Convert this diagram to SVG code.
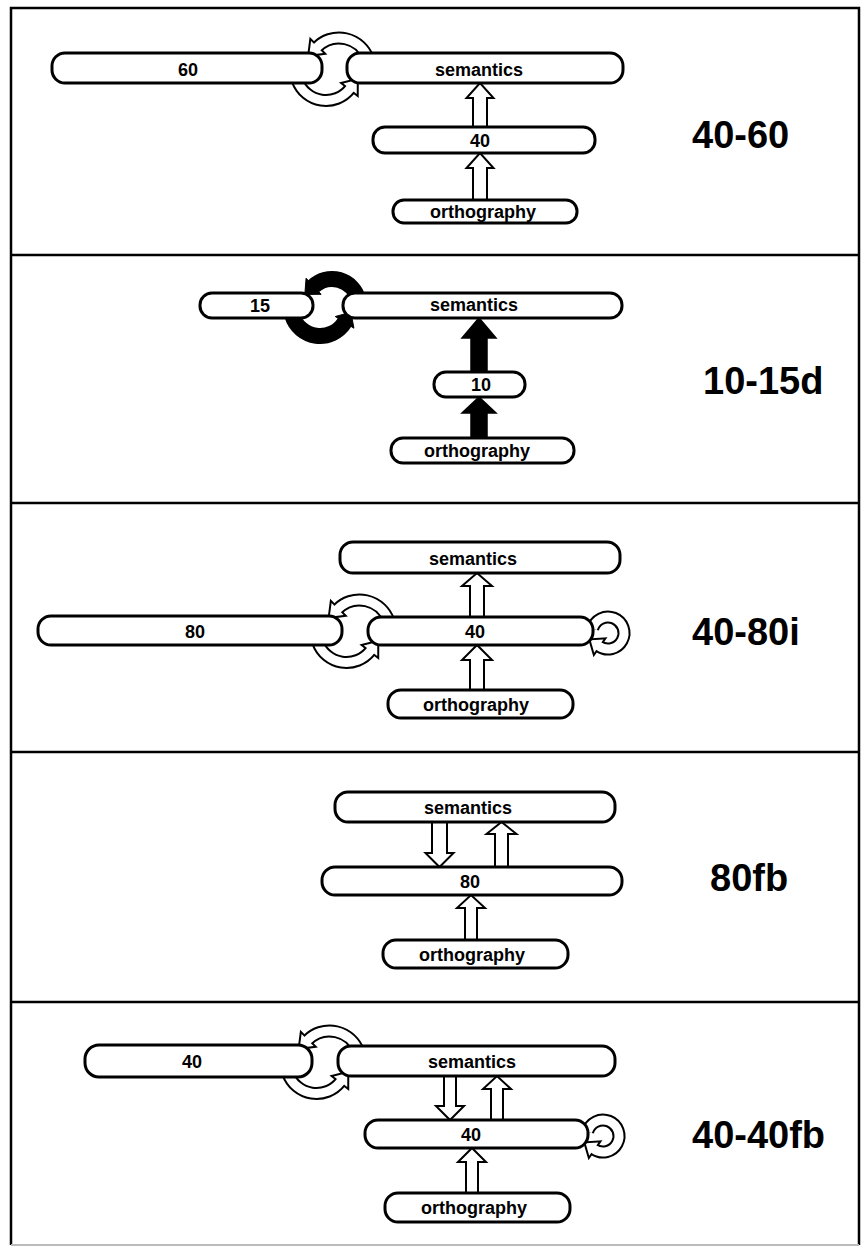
<svg xmlns="http://www.w3.org/2000/svg" xmlns:xlink="http://www.w3.org/1999/xlink" width="862" height="1249" viewBox="0 0 862 1249">
<style>
.pill{fill:#fff;stroke:#000;stroke-width:3}
.t{font-family:"Liberation Sans",Arial,Helvetica,sans-serif;font-weight:bold;font-size:18px;text-anchor:middle;fill:#000}
.lbl{font-family:"Liberation Sans",Arial,Helvetica,sans-serif;font-weight:bold;font-size:38px;fill:#000}
.ha{fill:#fff;stroke:#000;stroke-width:2;stroke-linejoin:miter}
.ba{fill:#000;stroke:#000;stroke-width:1.5;stroke-linejoin:miter}
.hb{fill:none;stroke:#000;stroke-width:13}
.hh{fill:#000;stroke:#000;stroke-width:4;stroke-linejoin:miter}
.hw{fill:none;stroke:#fff;stroke-width:9}
.hf{fill:#fff;stroke:none}
.bb{fill:none;stroke:#000;stroke-width:16}
.bh{fill:#000;stroke:#000;stroke-width:1}
.frame{fill:none;stroke:#000;stroke-width:2.5}
</style>
<defs>
<g id="loopH">
<path class="hb" d="M33.63,-9.6 A31,31 0 0 0 -17.42,-20.92"/>
<path class="hb" d="M-37.16,12.43 A30.5,30.5 0 0 0 15.53,20.78"/>
<polygon class="hh" points="-23.43,-26.93 -25.2,-13.14 -11.41,-14.91"/>
<polygon class="hh" points="22.23,26.02 22.3,12.11 8.83,15.54"/>
<path class="hw" d="M33.63,-9.6 A31,31 0 0 0 -17.42,-20.92 l-2.83,2.83"/>
<path class="hw" d="M-37.16,12.43 A30.5,30.5 0 0 0 15.53,20.78 l2.46,-3.15"/>
<polygon class="hf" points="-23.43,-26.93 -25.2,-13.14 -11.41,-14.91"/>
<polygon class="hf" points="22.23,26.02 22.3,12.11 8.83,15.54"/>
</g>
<g id="loopB">
<path class="bb" d="M30.08,-6.99 A27,27 0 0 0 -14.41,-19.75 l-1.46,1.36"/>
<path class="bb" d="M-35.73,9.48 A29,29 0 0 0 16.59,16.37 l1.06,-1.7"/>
<polygon class="bh" points="-21.91,-27.79 -23.18,-11.57 -6.91,-11.71"/>
<polygon class="bh" points="25.92,22.2 22.95,6.19 7.26,10.54"/>
</g>
<g id="selfH">
<path class="hb" d="M-0.45,-2.14 A16,16 0 1 1 5.82,15.11"/>
<polygon class="hh" points="1.23,21.66 -2.37,9.37 10.41,8.56"/>
<path class="hw" d="M-0.45,-2.14 A16,16 0 1 1 5.82,15.11 l-3.28,-2.3"/>
<polygon class="hf" points="1.23,21.66 -2.37,9.37 10.41,8.56"/>
</g>
</defs>
<rect x="0" y="0" width="862" height="1249" fill="#fff"/>
<g id="frame">
<path class="frame" d="M11,1245 V8 H859 V1245"/>
<line x1="11" y1="1245" x2="859" y2="1245" stroke="#bbb" stroke-width="2"/>
<line x1="11" y1="255" x2="859" y2="255" stroke="#000" stroke-width="2.5"/>
<line x1="11" y1="503" x2="859" y2="503" stroke="#000" stroke-width="2.5"/>
<line x1="11" y1="752" x2="859" y2="752" stroke="#000" stroke-width="2.5"/>
<line x1="11" y1="1002" x2="859" y2="1002" stroke="#000" stroke-width="2.5"/>
</g>
<g id="connectors">
<use xlink:href="#loopH" href="#loopH" transform="translate(334.5,68)"/>
<path class="ha" d="M473,127 V98 H466.5 L480,83 L493.5,98 H487 V127"/>
<path class="ha" d="M473,200 V168 H466.5 L480,153 L493.5,168 H487 V200"/>
<use xlink:href="#loopB" href="#loopB" transform="translate(328,306)"/>
<path class="ba" d="M471,372 V338 H462 L479,318 L496,338 H487 V372 Z"/>
<path class="ba" d="M471,438 V413 H462 L479,397 L496,413 H487 V438 Z"/>
<use xlink:href="#loopH" href="#loopH" transform="translate(355,630)"/>
<use xlink:href="#selfH" href="#selfH" transform="translate(593,631)"/>
<path class="ha" d="M470,617 V586 H462 L477,573 L492,586 H484 V617"/>
<path class="ha" d="M470,690 V660 H462 L477,645 L492,660 H484 V690"/>
<path class="ha" d="M432,822 V853 H425.5 L439.5,867 L453.5,853 H447 V822"/>
<path class="ha" d="M495,867 V834 H486.5 L501.5,822 L516.5,834 H508 V867"/>
<path class="ha" d="M465,940 V908 H457 L471,895 L485,908 H477 V940"/>
<use xlink:href="#loopH" href="#loopH" transform="translate(325,1061)"/>
<use xlink:href="#selfH" href="#selfH" transform="translate(588,1134)"/>
<path class="ha" d="M444,1076 V1106 H436 L450,1120 L464,1106 H456 V1076"/>
<path class="ha" d="M491,1120 V1089 H483 L497,1076 L511,1089 H503 V1120"/>
<path class="ha" d="M466,1193 V1162 H458 L472,1148 L486,1162 H478 V1193"/>
</g>
<g id="n1-60"><rect class="pill" x="52" y="53" width="270" height="30" rx="13"/><text class="t" x="188" y="76">60</text></g>
<g id="n1-semantics"><rect class="pill" x="347" y="53" width="276" height="30" rx="13"/><text class="t" x="479" y="76">semantics</text></g>
<g id="n1-40"><rect class="pill" x="373" y="127" width="222" height="26" rx="12"/><text class="t" x="480" y="147">40</text></g>
<g id="n1-orthography"><rect class="pill" x="393" y="200" width="184" height="23" rx="11"/><text class="t" x="483" y="218">orthography</text></g>
<text id="label1" class="lbl" x="692" y="148">40-60</text>
<g id="n2-15"><rect class="pill" x="200" y="293" width="113" height="25" rx="12"/><text class="t" x="260" y="312">15</text></g>
<g id="n2-semantics"><rect class="pill" x="343" y="293" width="279" height="25" rx="12"/><text class="t" x="474" y="311">semantics</text></g>
<g id="n2-10"><rect class="pill" x="434" y="372" width="91" height="25" rx="12"/><text class="t" x="481" y="391">10</text></g>
<g id="n2-orthography"><rect class="pill" x="391" y="438" width="183" height="25" rx="12"/><text class="t" x="477" y="457">orthography</text></g>
<text id="label2" class="lbl" x="703" y="394">10-15d</text>
<g id="n3-80"><rect class="pill" x="38" y="616" width="304" height="29" rx="13"/><text class="t" x="195" y="638">80</text></g>
<g id="n3-semantics"><rect class="pill" x="340" y="542" width="280" height="31" rx="13"/><text class="t" x="473" y="565">semantics</text></g>
<g id="n3-40"><rect class="pill" x="368" y="617" width="225" height="28" rx="13"/><text class="t" x="475" y="638">40</text></g>
<g id="n3-orthography"><rect class="pill" x="388" y="690" width="185" height="28" rx="13"/><text class="t" x="476" y="711">orthography</text></g>
<text id="label3" class="lbl" x="692" y="645">40-80i</text>
<g id="n4-semantics"><rect class="pill" x="335" y="792" width="280" height="30" rx="13"/><text class="t" x="468" y="814">semantics</text></g>
<g id="n4-80"><rect class="pill" x="322" y="867" width="300" height="28" rx="13"/><text class="t" x="470" y="888">80</text></g>
<g id="n4-orthography"><rect class="pill" x="383" y="940" width="185" height="28" rx="13"/><text class="t" x="472" y="961">orthography</text></g>
<text id="label4" class="lbl" x="710" y="891">80fb</text>
<g id="n5-40a"><rect class="pill" x="85" y="1045" width="227" height="32" rx="14"/><text class="t" x="192" y="1068">40</text></g>
<g id="n5-semantics"><rect class="pill" x="338" y="1046" width="277" height="30" rx="13"/><text class="t" x="472" y="1068">semantics</text></g>
<g id="n5-40"><rect class="pill" x="365" y="1120" width="223" height="28" rx="13"/><text class="t" x="471" y="1141">40</text></g>
<g id="n5-orthography"><rect class="pill" x="385" y="1193" width="185" height="29" rx="13"/><text class="t" x="474" y="1214">orthography</text></g>
<text id="label5" class="lbl" x="692" y="1148">40-40fb</text>
</svg>
